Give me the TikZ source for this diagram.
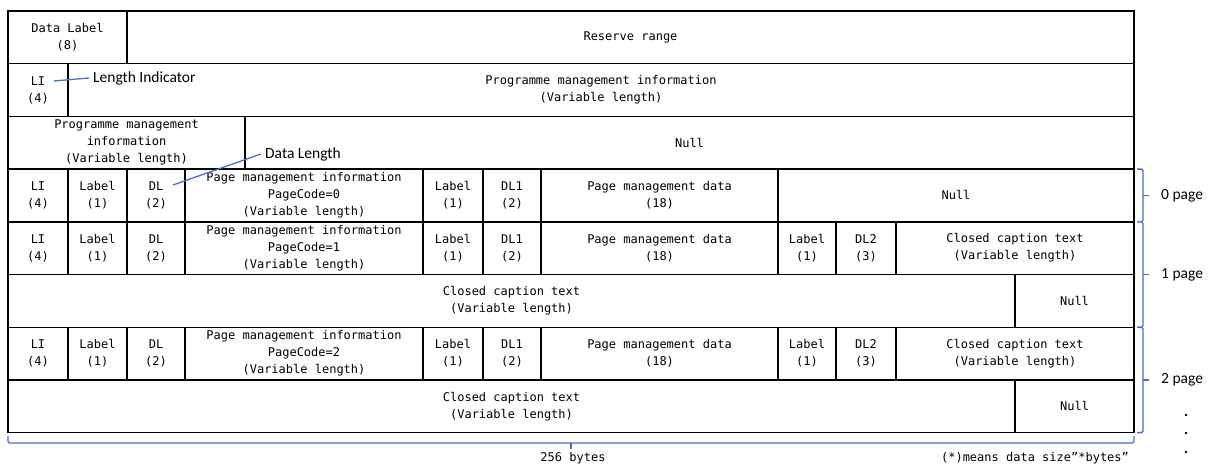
\documentclass[tikz,border=0pt]{standalone}
\usepackage{fontspec}
\newfontfamily\tabfont{DejaVu Sans Mono}
\newfontfamily\notefont{Carlito}
\usetikzlibrary{positioning}
\definecolor{pBlue}{RGB}{68,114,196}
\tikzset{
    cell/.style={draw, line width=1.4pt, anchor=north west, outer sep=0pt, inner sep=0pt,
        minimum height=52.7pt, align=center, font=\tabfont\fontsize{12}{17}\selectfont},
    note/.style={inner sep=4pt, font=\notefont\fontsize{15.5}{17}\selectfont},
    tnote/.style={inner sep=0pt, font=\tabfont\fontsize{12}{15}\selectfont},
    lead/.style={pBlue, line width=1.3pt},
    brack/.style={pBlue, line width=1.3pt, rounded corners=1.5pt}
}

\begin{document}
\begin{tikzpicture}[x=1pt,y=-1pt]
\useasboundingbox (0,0) rectangle (1210,466);
\node[cell, minimum width=119pt] (dlab) at (8,11) {Data Label\\(8)};
\node[cell, minimum width=1007pt] (resv) at (127,11) {Reserve range};
\node[cell, minimum width=60pt] (li0) at (8,63.7) {LI\\(4)};
\node[cell, minimum width=1066pt] (pmi0) at (68,63.7) {Programme management information\\(Variable length)};
\node[cell, minimum width=237pt] (pmi1) at (8,116.4) {Programme management\\information\\(Variable length)};
\node[cell, minimum width=889pt] (null0) at (245,116.4) {Null};
\node[cell, minimum width=60pt] (li1) at (8,169.1) {LI\\(4)};
\node[cell, minimum width=59pt] (lab1) at (68,169.1) {Label\\(1)};
\node[cell, minimum width=58pt] (dl1) at (127,169.1) {DL\\(2)};
\node[cell, minimum width=238pt] (pgi1) at (185,169.1) {Page management information\\PageCode=0\\(Variable length)};
\node[cell, minimum width=60pt] (labp1) at (423,169.1) {Label\\(1)};
\node[cell, minimum width=58pt] (dla1) at (483,169.1) {DL1\\(2)};
\node[cell, minimum width=237pt] (pmd1) at (541,169.1) {Page management data\\(18)};
\node[cell, minimum width=356pt] (null1) at (778,169.1) {Null};
\node[cell, minimum width=60pt] (li2) at (8,221.8) {LI\\(4)};
\node[cell, minimum width=59pt] (lab2) at (68,221.8) {Label\\(1)};
\node[cell, minimum width=58pt] (dl2) at (127,221.8) {DL\\(2)};
\node[cell, minimum width=238pt] (pgi2) at (185,221.8) {Page management information\\PageCode=1\\(Variable length)};
\node[cell, minimum width=60pt] (labp2) at (423,221.8) {Label\\(1)};
\node[cell, minimum width=58pt] (dla2) at (483,221.8) {DL1\\(2)};
\node[cell, minimum width=237pt] (pmd2) at (541,221.8) {Page management data\\(18)};
\node[cell, minimum width=58pt] (labc2) at (778,221.8) {Label\\(1)};
\node[cell, minimum width=60pt] (dlb2) at (836,221.8) {DL2\\(3)};
\node[cell, minimum width=238pt] (cct2) at (896,221.8) {Closed caption text\\(Variable length)};
\node[cell, minimum width=1007pt] (cctx2) at (8,274.5) {Closed caption text\\(Variable length)};
\node[cell, minimum width=119pt] (null2) at (1015,274.5) {Null};
\node[cell, minimum width=60pt] (li3) at (8,327.2) {LI\\(4)};
\node[cell, minimum width=59pt] (lab3) at (68,327.2) {Label\\(1)};
\node[cell, minimum width=58pt] (dl3) at (127,327.2) {DL\\(2)};
\node[cell, minimum width=238pt] (pgi3) at (185,327.2) {Page management information\\PageCode=2\\(Variable length)};
\node[cell, minimum width=60pt] (labp3) at (423,327.2) {Label\\(1)};
\node[cell, minimum width=58pt] (dla3) at (483,327.2) {DL1\\(2)};
\node[cell, minimum width=237pt] (pmd3) at (541,327.2) {Page management data\\(18)};
\node[cell, minimum width=58pt] (labc3) at (778,327.2) {Label\\(1)};
\node[cell, minimum width=60pt] (dlb3) at (836,327.2) {DL2\\(3)};
\node[cell, minimum width=238pt] (cct3) at (896,327.2) {Closed caption text\\(Variable length)};
\node[cell, minimum width=1007pt] (cctx3) at (8,379.9) {Closed caption text\\(Variable length)};
\node[cell, minimum width=119pt] (null3) at (1015,379.9) {Null};

\node[note, anchor=west] (lenind) at (89,78) {Length Indicator};
\coordinate (lipt) at (54,81);
\draw[lead] (lipt) -- (lenind.west);
\node[note, anchor=west] (datlen) at (261,154) {Data Length};
\coordinate (dlpt) at (173,185);
\draw[lead] (dlpt) -- (datlen.west);

\draw[brack] (1137,169.1) -| (1143,221.8) -- (1137,221.8);
\draw[lead] (1143,195.5) -- (1149,195.5);
\node[note, anchor=west] (pg0) at (1157,195.5) {0 page};
\draw[brack] (1137,221.8) -| (1143,327.2) -- (1137,327.2);
\draw[lead] (1143,274.5) -- (1149,274.5);
\node[note, anchor=west] (pg1) at (1157,274.5) {1 page};
\draw[brack] (1137,327.2) -| (1143,432.6) -- (1137,432.6);
\draw[lead] (1143,379.9) -- (1149,379.9);
\node[note, anchor=west] (pg2) at (1157,379.9) {2 page};
\fill (1186,415) circle (1.3);
\fill (1186,433) circle (1.3);
\fill (1186,452) circle (1.3);

\draw[brack] (8,436) |- (571,443) -| (1134,436);
\draw[lead] (571,443) -- (571,449);
\node[tnote] (bytes) at (573,458) {256 bytes};
\node[tnote] (means) at (1035,458) {(*)means data size”*bytes”};
\end{tikzpicture}
\end{document}
